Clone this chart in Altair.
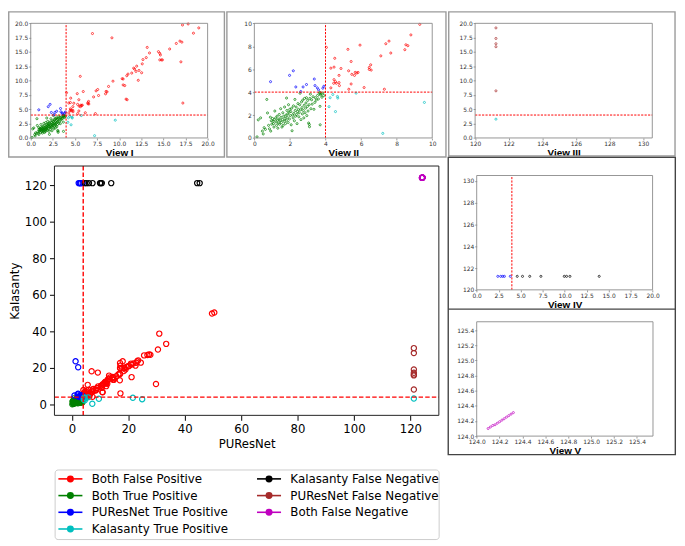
import altair as alt
import pandas as pd

# ---------------- data ----------------
CATS = ["Both False Positive", "Both True Positive", "PUResNet True Positive",
        "Kalasanty True Positive", "Kalasanty False Negative",
        "PUResNet False Negative", "Both False Negative"]
CAT_COLORS = ["#ff0000", "#008000", "#0000ff", "#00bfbf", "#000000", "#a52a2a", "#bf00bf"]

both_fp = [
    (4.05, 7.90), (5.26, 7.73), (5.94, 8.10), (4.52, 6.95), (4.30, 6.09), (4.48, 6.18), (4.87, 6.06),
    (5.44, 6.67), (5.30, 5.86), (5.67, 5.72), (5.76, 5.66), (5.83, 5.72), (5.63, 5.46), (5.48, 5.55),
    (5.44, 4.71), (5.31, 4.25), (6.17, 4.40), (4.48, 5.09), (4.56, 4.91), (4.61, 4.77), (4.46, 4.77),
    (4.76, 4.83), (4.78, 4.57), (4.76, 5.46), (4.30, 4.37), (6.46, 6.15), (6.54, 6.38), (6.46, 5.98),
    (6.57, 5.92), (7.11, 7.16), (7.39, 8.22), (7.57, 8.45), (7.67, 7.41), (7.31, 4.25), (8.46, 7.70),
    (8.52, 8.13), (8.63, 8.05), (8.80, 8.99), (9.30, 9.91),
    (5.60, 10.75), (6.98, 18.22), (9.18, 17.47),
    (10.34, 10.34), (10.45, 10.29), (10.63, 9.14), (10.45, 9.25), (10.78, 6.78), (10.90, 6.67),
    (10.86, 10.86), (11.00, 11.15), (11.42, 11.32), (11.64, 12.18), (11.75, 12.01), (11.90, 11.61),
    (11.98, 12.53), (12.16, 10.06), (12.24, 11.78), (12.54, 11.38), (12.61, 12.93), (12.69, 13.68),
    (13.06, 14.02), (13.17, 15.80), (13.43, 14.83), (14.44, 15.06), (14.59, 14.77), (14.66, 14.48),
    (14.59, 13.62), (14.78, 13.62), (14.89, 13.62), (15.71, 15.52), (16.46, 16.49), (16.87, 16.90),
    (17.09, 16.72), (16.98, 13.28), (17.16, 19.71), (17.80, 19.89), (18.40, 18.28), (19.00, 19.20),
    (17.20, 6.09),
    (17.06, 20.03), (18.70, 20.03), (17.18, 21.29), (18.00, 23.64), (17.06, 22.73), (19.86, 20.93),
    (20.92, 22.37), (21.15, 14.98), (22.55, 21.29), (23.14, 23.64), (23.49, 24.18), (24.42, 22.92),
    (25.59, 26.89), (26.76, 27.07), (27.34, 27.43), (27.81, 27.25), (29.80, 11.19), (30.50, 30.13),
    (30.97, 38.80), (33.42, 33.20), (49.66, 49.80), (50.48, 50.34), (19.30, 20.60), (20.20, 21.00),
    (21.00, 21.80), (21.80, 22.50), (22.80, 22.90),
]
both_tp = [
    (0.15, 0.10), (0.22, 1.58), (0.35, 1.75), (0.45, 0.60), (0.50, 0.35),
    (0.55, 0.90), (0.62, 0.75), (0.70, 3.36), (0.74, 2.18), (0.80, 1.10), (0.85, 0.80), (0.90, 1.81),
    (0.95, 1.50), (0.98, 1.20), (0.92, 0.60),
    (1.02, 1.70), (1.05, 1.45), (1.08, 1.25), (1.10, 0.95), (1.12, 1.60), (1.15, 2.35), (1.20, 1.75),
    (1.22, 1.40), (1.25, 1.10), (1.28, 1.90), (1.30, 1.55), (1.32, 0.85), (1.35, 1.30), (1.38, 1.65),
    (1.40, 2.05), (1.42, 1.20), (1.45, 1.50), (1.48, 2.55), (1.50, 1.80),
    (1.52, 1.35), (1.55, 0.95), (1.58, 1.60), (1.60, 2.20), (1.62, 1.10), (1.65, 1.90), (1.68, 1.45),
    (1.70, 2.70), (1.72, 1.70), (1.75, 1.25), (1.78, 2.00), (1.80, 1.55), (1.81, 3.48), (1.83, 2.40),
    (1.85, 1.80), (1.88, 2.10), (1.90, 1.35), (1.92, 2.90), (1.95, 2.25), (1.97, 1.65), (1.99, 2.50),
    (2.02, 1.95), (2.05, 2.30), (2.07, 1.15), (2.10, 2.60), (2.12, 0.63), (2.15, 2.00), (2.18, 1.75),
    (2.20, 2.80), (2.22, 2.15), (2.25, 1.50), (2.28, 3.36), (2.30, 2.40), (2.32, 1.90), (2.35, 2.70),
    (2.38, 2.05), (2.40, 1.25), (2.42, 2.30), (2.45, 3.00), (2.48, 2.50),
    (2.50, 1.85), (2.52, 2.20), (2.55, 2.90), (2.57, 3.90), (2.60, 2.45), (2.62, 1.60), (2.65, 3.15),
    (2.68, 2.65), (2.70, 2.10), (2.72, 3.30), (2.75, 2.40), (2.78, 1.75), (2.80, 2.85), (2.82, 3.45),
    (2.85, 2.20), (2.88, 2.60), (2.90, 3.05), (2.93, 3.51), (2.95, 1.95), (2.98, 2.75),
    (3.00, 3.28), (3.02, 2.35), (3.05, 1.30), (3.08, 2.90), (3.09, 1.18), (3.10, 0.98), (3.12, 3.45),
    (3.15, 3.82), (3.18, 2.55), (3.22, 3.33), (3.25, 2.95), (3.30, 3.60), (3.35, 2.50), (3.40, 3.10),
    (3.43, 3.51), (3.48, 3.30),
    (3.55, 3.70), (3.60, 3.40), (3.65, 3.90), (3.69, 3.97), (3.69, 2.76), (3.70, 1.15), (3.72, 3.75),
    (3.74, 3.85), (3.80, 3.55), (3.85, 3.92), (3.90, 3.70),
]
pures_tp = [
    (0.91, 4.91), (1.98, 5.46), (2.19, 5.86), (2.33, 4.45), (2.61, 4.05), (2.74, 4.45), (2.93, 4.66),
    (3.37, 5.14), (3.41, 4.57), (3.54, 4.37), (3.61, 4.20), (3.85, 4.34), (3.91, 4.51),
    (1.29, 23.64), (2.22, 20.39),
    (2.40, 121.24), (2.73, 121.24), (2.96, 121.24), (3.15, 121.24), (3.82, 121.24),
]
kala_tp = [
    (4.26, 3.51), (4.41, 3.79), (4.20, 2.73), (4.56, 2.30), (4.67, 3.62), (4.69, 3.48), (5.72, 3.91),
    (7.22, 0.40), (9.56, 3.10), (21.60, 3.70), (24.90, 2.90), (121.24, 3.28),
]
kala_fn = [
    (4.61, 121.24), (5.21, 121.24), (6.03, 121.24), (7.30, 121.24), (9.96, 121.24), (10.22, 121.24),
    (10.60, 121.24), (13.93, 121.24), (44.40, 121.24), (45.30, 121.24),
]
pures_fn = [
    (121.24, 8.22), (121.24, 15.92), (121.24, 16.44), (121.24, 17.36), (121.24, 19.20),
    (121.24, 28.15), (121.24, 30.86),
]
both_fn = [
    (124.10, 124.10), (124.12, 124.12), (124.14, 124.14), (124.16, 124.15), (124.18, 124.17),
    (124.20, 124.19), (124.22, 124.21), (124.24, 124.23), (124.26, 124.25), (124.28, 124.27),
    (124.30, 124.29), (124.32, 124.31),
]

TICKS_20 = [0, 2.5, 5, 7.5, 10, 12.5, 15, 17.5, 20]
TICKS_10 = [0, 2, 4, 6, 8, 10]
TICKS_120 = [120, 122, 124, 126, 128, 130]
TICKS_124 = [124.0, 124.2, 124.4, 124.6, 124.8, 125.0, 125.2, 125.4]
TICKS_MAIN = [0, 20, 40, 60, 80, 100, 120]
THRESHOLD = 4

# ---------------- build table ----------------
rows = []
for cat, pts in zip(CATS, [both_fp, both_tp, pures_tp, kala_tp, kala_fn, pures_fn, both_fn]):
    for x, y in pts:
        rows.append({"cat": cat, "x": x, "y": y})
df = pd.DataFrame(rows)

cscale = alt.Scale(domain=CATS, range=CAT_COLORS)

W, H, OFF = 677, 538, 8  # chart size; page margin
FONT = "DejaVu Sans"


def panel(pid, xdom, ydom, xpx, ypx, xt, yt, xf, yf, title, vline, hline, main=False):
    sx = alt.Scale(domain=list(xdom), range=[xpx[0] - OFF, xpx[1] - OFF], nice=False, zero=False)
    sy = alt.Scale(domain=list(ydom), range=[ypx[0] - OFF, ypx[1] - OFF], nice=False, zero=False)
    if main:
        common = dict(grid=False, domain=False, labelFlush=False, labelOverlap=False,
                      labelFont=FONT, labelFontSize=11.8, labelColor="#000", labelPadding=3,
                      tickSize=5, tickColor="#000", tickWidth=1,
                      titleFont=FONT, titleFontSize=11.8, titleFontWeight="normal", titleColor="#000")
        xaxis = alt.Axis(orient="bottom", offset=(ypx[0] - OFF) - H, values=xt, format=xf,
                         title=title[0], titlePadding=4, **common)
        yaxis = alt.Axis(orient="left", offset=-(xpx[0] - OFF), values=yt, format=yf,
                         title=title[1], titlePadding=4, **common)
        psize, pw = 28, 1.2
        fcol, fw = "#222", 1.0
        rdash, rw = [4.5, 2.2], 1.4
    else:
        common = dict(grid=False, domain=False, labelFlush=False, labelOverlap=False,
                      labelFont=FONT, labelFontSize=6, labelColor="#333", labelPadding=1,
                      tickSize=2, tickColor="#555", tickWidth=0.6)
        xaxis = alt.Axis(orient="bottom", offset=(ypx[0] - OFF) - H, values=xt, format=xf,
                         title=title, titleFont="Liberation Sans", titleFontSize=10,
                         titleFontWeight="bold", titleColor="#000", titlePadding=1, **common)
        yaxis = alt.Axis(orient="left", offset=-(xpx[0] - OFF), values=yt, format=yf,
                         title=None, **common)
        psize, pw = 4.5, 0.7
        fcol, fw = "#8a8a8a", 0.9
        rdash, rw = [2.2, 1.3], 1.0

    filt = (f"datum.x >= {xdom[0]} && datum.x <= {xdom[1]} && "
            f"datum.y >= {ydom[0]} && datum.y <= {ydom[1]}")
    pts = alt.Chart(df).transform_filter(filt).mark_point(
        filled=False, size=psize, strokeWidth=pw, opacity=1
    ).encode(
        x=alt.X("x:Q", scale=sx, axis=xaxis),
        y=alt.Y("y:Q", scale=sy, axis=yaxis),
        color=alt.Color("cat:N", scale=cscale, legend=None),
    )
    layers = [pts]
    segs = []
    if vline:
        segs.append({"p": pid, "x0": THRESHOLD, "x1": THRESHOLD, "y0": ydom[0], "y1": ydom[1]})
    if hline:
        segs.append({"p": pid, "x0": xdom[0], "x1": xdom[1], "y0": THRESHOLD, "y1": THRESHOLD})
    if segs:
        rl = alt.Chart(pd.DataFrame(segs)).mark_rule(
            color="#ff0000", strokeDash=rdash, strokeWidth=rw, opacity=1
        ).encode(x=alt.X("x0:Q", scale=sx, axis=None), x2="x1:Q",
                 y=alt.Y("y0:Q", scale=sy, axis=None), y2="y1:Q")
        layers.append(rl)
    frame = alt.Chart(pd.DataFrame({"p": [pid], "x0": [xdom[0]], "x1": [xdom[1]],
                                    "y0": [ydom[0]], "y1": [ydom[1]]})).mark_rect(
        fill="transparent", stroke=fcol, strokeWidth=fw
    ).encode(x=alt.X("x0:Q", scale=sx, axis=None), x2="x1:Q",
             y=alt.Y("y0:Q", scale=sy, axis=None), y2="y1:Q")
    layers.append(frame)
    return layers


layers = []
layers += panel("I", (0, 20), (0, 20), (31, 210), (136.3, 20.3), TICKS_20, TICKS_20, ".1f", ".1f", "View I", True, True)
layers += panel("II", (0, 10), (0, 10), (257.3, 437.3), (136.3, 20.3), TICKS_10, TICKS_10, "d", "d", "View II", True, True)
layers += panel("III", (120, 130.55), (0, 20), (480.7, 660), (136.3, 20.3), TICKS_120, TICKS_20, "d", ".1f", "View III", False, True)
layers += panel("IV", (0, 20), (120, 130.5), (482.3, 660.3), (290, 174.3), TICKS_20, TICKS_120, ".1f", "d", "View IV", True, False)
layers += panel("V", (124, 125.54), (124, 125.51), (482.3, 660.7), (438, 322.3), TICKS_124, TICKS_124, ".1f", ".1f", "View V", False, False)
layers += panel("main", (-6.2, 130.1), (-5.95, 130.6), (55, 444), (417, 164.7), TICKS_MAIN, TICKS_MAIN, "d", "d",
                ("PUResNet", "Kalasanty"), True, True, main=True)


# ---------------- decorative boxes ----------------
def box(x0, x1, y0, y1, color, w, radius=0, fill="transparent"):
    return alt.Chart(pd.DataFrame({"k": [0]})).mark_rect(
        fill=fill, stroke=color, strokeWidth=w, cornerRadius=radius
    ).encode(x=alt.value(x0), x2=alt.value(x1), y=alt.value(y0), y2=alt.value(y1))


layers.append(box(0.75, 219, 0.75, 147.5, "#9a9a9a", 1.4))
layers.append(box(221.5, 443.2, 0.75, 147.5, "#9a9a9a", 1.4))
layers.append(box(446, 675, 0.75, 146.5, "#9a9a9a", 1.4))
layers.append(box(445.5, 675.3, 148, 448.7, "#444444", 1.4))
layers.append(alt.Chart(pd.DataFrame({"k": [1]})).mark_rule(color="#444444", strokeWidth=1.4).encode(
    x=alt.value(445.5), x2=alt.value(675.3), y=alt.value(301.5)))

# ---------------- legend (two columns, column-major like matplotlib) ----------------
leg_df = pd.DataFrame({
    "cat": CATS,
    "col": [i // 4 for i in range(len(CATS))],
    "row": [i % 4 for i in range(len(CATS))],
})
lx = alt.Scale(domain=[0, 1], range=[51, 252], nice=False, zero=False)
ly = alt.Scale(domain=[0, 3], range=[473.3, 524], nice=False, zero=False)
LX = alt.X("col:Q", scale=lx, axis=None)
LY = alt.Y("row:Q", scale=ly, axis=None)

layers.append(box(47.7, 436.3, 464.3, 534.7, "#cccccc", 1, radius=3, fill="#ffffff"))
layers.append(alt.Chart(leg_df).mark_rule(strokeWidth=1.6, x2Offset=24.3).encode(
    x=LX, x2="col:Q", y=LY,
    color=alt.Color("cat:N", scale=cscale, legend=None)))
layers.append(alt.Chart(leg_df).mark_point(filled=True, size=50, opacity=1, xOffset=12.15).encode(
    x=LX, y=LY, color=alt.Color("cat:N", scale=cscale, legend=None)))
layers.append(alt.Chart(leg_df).mark_text(align="left", baseline="middle", dx=33.7, font=FONT,
                                          fontSize=12, color="#000").encode(
    x=LX, y=LY, text="cat:N"))

chart = alt.layer(*layers).resolve_scale(x="independent", y="independent").properties(
    width=W, height=H, padding=0, autosize=alt.AutoSizeParams(type="none")
).configure_view(strokeWidth=0)

chart.save("out.html", embed_options={"renderer": "svg", "actions": False})
